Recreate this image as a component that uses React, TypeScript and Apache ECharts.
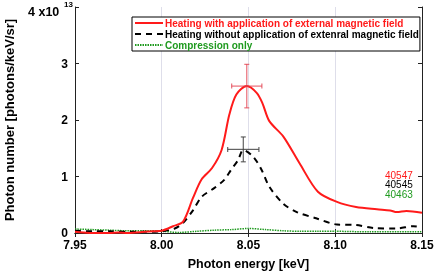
import React, { useEffect, useRef } from "react";
import * as echarts from "echarts";

const seriesNames = [
  "Heating with application of external magnetic field",
  "Heating without application of extenral magnetic field",
  "Compression only",
];

// [energy keV, photons (x1e13)]
const redData: [number, number][] = [
  [7.95, 0.02], [7.955, 0.01], [7.96, 0.0], [7.97, 0.0], [7.975, 0.01], [7.98, 0.0], [7.985, 0.01],
  [7.99, 0.02], [7.995, 0.03], [8.0, 0.04], [8.0065, 0.12], [8.0123, 0.2], [8.018, 0.62],
  [8.023, 0.95], [8.029, 1.15], [8.0345, 1.47], [8.039, 2.1], [8.043, 2.45], [8.049, 2.6],
  [8.0547, 2.48], [8.058, 2.3], [8.062, 1.98], [8.07, 1.71], [8.0795, 1.23], [8.09, 0.73],
  [8.101, 0.55], [8.112, 0.46], [8.124, 0.42], [8.1316, 0.4], [8.1355, 0.37], [8.141, 0.39],
  [8.15, 0.36],
];

const blackData: [number, number][] = [
  [7.95, 0.04], [7.96, 0.03], [7.97, 0.03], [7.98, 0.02], [7.99, 0.02], [8.0, 0.03],
  [8.0075, 0.08], [8.012, 0.17], [8.018, 0.4], [8.023, 0.64], [8.03, 0.79], [8.036, 0.94],
  [8.04, 1.12], [8.044, 1.29], [8.047, 1.47], [8.0527, 1.35], [8.0575, 1.12], [8.062, 0.82],
  [8.07, 0.52], [8.0778, 0.37], [8.089, 0.26], [8.101, 0.15], [8.112, 0.14], [8.122, 0.09],
  [8.1355, 0.08], [8.145, 0.12], [8.15, 0.1],
];

const greenData: [number, number][] = [
  [7.95, 0.07], [7.96, 0.06], [7.97, 0.05], [7.98, 0.04], [7.99, 0.04], [8.0, 0.03],
  [8.01, 0.01], [8.02, 0.03], [8.03, 0.05], [8.04, 0.06], [8.05, 0.08], [8.06, 0.06],
  [8.07, 0.04], [8.08, 0.03], [8.09, 0.03], [8.1, 0.03], [8.12, 0.02], [8.15, 0.02],
];

// [x, y, xErr, yErr]
const redError = [[8.049, 2.6, 0.0087, 0.385]];
const blackError = [[8.047, 1.48, 0.009, 0.22]];

const shotLabels = ["40547", "40545", "40463"];

const colors = ["#ff1a1a", "#000000", "#1f9a1f"];
const FONT = "Liberation Sans, Arial, sans-serif";

function errorSeries(data: number[][], color: string) {
  return {
    type: "custom",
    data,
    z: 5,
    renderItem: (_params: any, api: any) => {
      const x = api.value(0), y = api.value(1), dx = api.value(2), dy = api.value(3);
      const top = api.coord([x, y + dy]);
      const bot = api.coord([x, y - dy]);
      const lft = api.coord([x - dx, y]);
      const rgt = api.coord([x + dx, y]);
      const c = 2.5;
      const st = { stroke: color, lineWidth: 1.2 };
      return {
        type: "group",
        children: [
          { type: "line", shape: { x1: top[0], y1: top[1], x2: bot[0], y2: bot[1] }, style: st },
          { type: "line", shape: { x1: top[0] - c, y1: top[1], x2: top[0] + c, y2: top[1] }, style: st },
          { type: "line", shape: { x1: bot[0] - c, y1: bot[1], x2: bot[0] + c, y2: bot[1] }, style: st },
          { type: "line", shape: { x1: lft[0], y1: lft[1], x2: rgt[0], y2: rgt[1] }, style: st },
          { type: "line", shape: { x1: lft[0], y1: lft[1] - c, x2: lft[0], y2: lft[1] + c }, style: st },
          { type: "line", shape: { x1: rgt[0], y1: rgt[1] - c, x2: rgt[0], y2: rgt[1] + c }, style: st },
        ],
      };
    },
  };
}

export default function App() {
  const ref = useRef<HTMLDivElement>(null);
  useEffect(() => {
    if (!ref.current) return;
    const chart = echarts.init(ref.current, undefined, { renderer: "svg" });
    const axisLine = { show: true, lineStyle: { color: "#222", width: 1 } };
    const tick = { show: true, inside: true, length: 4, lineStyle: { color: "#222" } };
    chart.setOption({
      animation: false,
      textStyle: { fontFamily: FONT },
      grid: { left: 75, right: 14, top: 7, bottom: 39, containLabel: false, outerBoundsMode: "none" },
      legend: {
        left: 132,
        top: 17,
        orient: "vertical",
        backgroundColor: "#fff",
        borderColor: "#000",
        borderWidth: 1,
        borderRadius: 0,
        padding: [1, 1, 1, 2],
        itemGap: 1,
        itemWidth: 28,
        itemHeight: 10,
        itemStyle: { opacity: 0 },
        textStyle: { fontSize: 10, fontWeight: "bold", fontFamily: FONT, padding: [0, 0, 0, -3] },
        data: seriesNames.map((n, i) => ({ name: n, textStyle: { color: colors[i] } })),
      },
      xAxis: [
        {
          type: "value",
          min: 7.95,
          max: 8.15,
          interval: 0.05,
          axisLine,
          axisTick: tick,
          axisLabel: {
            color: "#000",
            fontSize: 12,
            fontWeight: "bold",
            margin: 6,
            formatter: (v: number) => v.toFixed(2),
          },
          splitLine: { show: true, lineStyle: { color: "#dedeea", width: 1 } },
          name: "Photon energy [keV]",
          nameLocation: "middle",
          nameGap: 24,
          nameTextStyle: { fontSize: 12.5, fontWeight: "bold", color: "#000" },
        },
        {
          type: "value",
          position: "top",
          min: 7.95,
          max: 8.15,
          interval: 0.05,
          axisLine,
          axisTick: tick,
          axisLabel: { show: false },
          splitLine: { show: false },
        },
      ],
      yAxis: [
        {
          type: "value",
          min: 0,
          max: 4,
          interval: 1,
          axisLine,
          axisTick: tick,
          axisLabel: {
            color: "#000",
            fontSize: 12,
            fontWeight: "bold",
            margin: 7,
            formatter: (v: number) => (v === 4 ? "" : String(v)),
          },
          splitLine: { show: false },
          name: "Photon number [photons/keV/sr]",
          nameLocation: "middle",
          nameGap: 59,
          nameTextStyle: { fontSize: 13, fontWeight: "bold", color: "#000" },
        },
        {
          type: "value",
          position: "right",
          min: 0,
          max: 4,
          interval: 1,
          axisLine,
          axisTick: tick,
          axisLabel: { show: false },
          splitLine: { show: false },
        },
      ],
      series: [
        {
          name: seriesNames[0],
          type: "line",
          data: redData,
          smooth: 0.3,
          symbol: "none",
          lineStyle: { color: colors[0], width: 2 },
          itemStyle: { color: colors[0] },
          z: 4,
        },
        {
          name: seriesNames[1],
          type: "line",
          data: blackData,
          smooth: 0.3,
          symbol: "none",
          lineStyle: { color: colors[1], width: 2, type: [6, 5] },
          itemStyle: { color: colors[1] },
          z: 3,
        },
        {
          name: seriesNames[2],
          type: "line",
          data: greenData,
          smooth: 0.3,
          symbol: "none",
          lineStyle: { color: colors[2], width: 1.5, type: [1.5, 1] },
          itemStyle: { color: colors[2] },
          z: 2,
        },
        errorSeries(redError, "rgba(225,60,75,0.75)"),
        errorSeries(blackError, "rgba(60,60,60,0.8)"),
      ],
      graphic: [
        {
          type: "text",
          left: 28,
          top: 5,
          style: { text: "4 x10", fontSize: 12.5, fontWeight: "bold", fill: "#000", fontFamily: FONT },
        },
        {
          type: "text",
          left: 64,
          top: 0,
          style: { text: "13", fontSize: 8, fontWeight: "bold", fill: "#000", fontFamily: FONT },
        },
        ...shotLabels.map((t, i) => ({
          type: "text",
          left: 385,
          top: 170 + i * 9.6,
          style: { text: t, fontSize: 10, fill: colors[i], fontFamily: FONT },
        })),
      ],
    });
    return () => chart.dispose();
  }, []);
  return (
    <div
      ref={ref}
      style={{ position: "fixed", left: 0, top: 0, width: 436, height: 272 }}
    />
  );
}
